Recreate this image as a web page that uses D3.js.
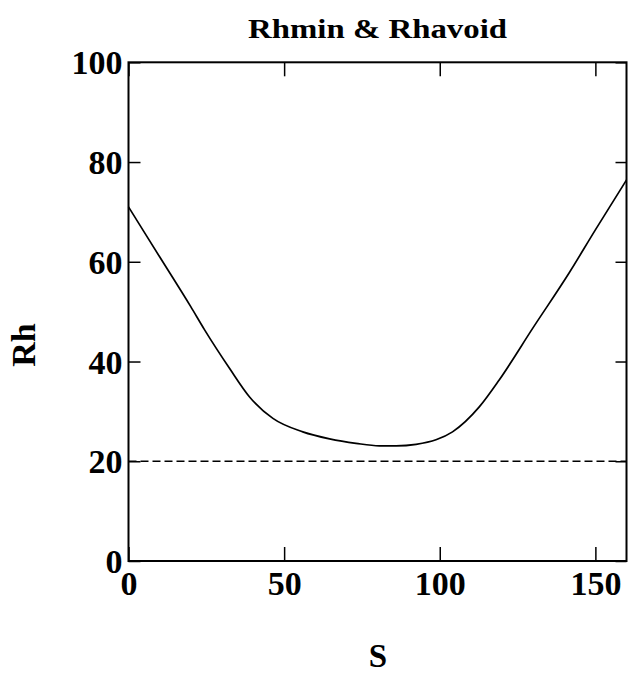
<!DOCTYPE html>
<html><head><meta charset="utf-8">
<script src="https://cdn.jsdelivr.net/npm/d3@7"></script>
<style>body{margin:0;background:#fff}svg{display:block}text{font-family:"Liberation Serif","Times New Roman",serif;font-weight:bold;fill:#000}</style>
</head><body>
<script>
const sValues = [0, 10, 20, 24.5, 32.5, 38.9, 46.4, 56, 64.6, 73.1, 80.6, 86, 92.4, 98.8, 104.1, 112.7, 119.1, 130, 141.5, 150, 160];
const rhValues = [71, 61, 51, 46.3, 38.6, 32.9, 28.6, 25.9, 24.5, 23.6, 23.1, 23.1, 23.4, 24.3, 25.9, 30.9, 36.3, 46.8, 57.7, 66.4, 76.4];
const rhAvoid = 20;
const xTicks = [0, 50, 100, 150];
const yTicks = [0, 20, 40, 60, 80, 100];
const title = "Rhmin & Rhavoid";
const xLabel = "S";
const yLabel = "Rh";

const W = 630, H = 674;
const m = {left: 128.5, right: 626.5, top: 62.3, bottom: 561};
const svg = d3.select("body").append("svg").attr("width", W).attr("height", H);
const x = d3.scaleLinear().domain([0, 160]).range([m.left, m.right]);
const y = d3.scaleLinear().domain([0, 100]).range([m.bottom, m.top]);

// frame
svg.append("rect").attr("x", m.left).attr("y", m.top).attr("width", m.right - m.left).attr("height", m.bottom - m.top)
  .attr("fill", "none").attr("stroke", "#000").attr("stroke-width", 2);

const tl = 14;
const gb = svg.append("g").attr("transform", `translate(0,${m.bottom})`)
  .call(d3.axisBottom(x).tickValues(xTicks).tickSizeInner(-tl).tickSizeOuter(0));
const gt = svg.append("g").attr("transform", `translate(0,${m.top})`)
  .call(d3.axisTop(x).tickValues(xTicks).tickSizeInner(-tl).tickSizeOuter(0).tickFormat(""));
const gl = svg.append("g").attr("transform", `translate(${m.left},0)`)
  .call(d3.axisLeft(y).tickValues(yTicks).tickSizeInner(-12).tickSizeOuter(0));
const gr = svg.append("g").attr("transform", `translate(${m.right},0)`)
  .call(d3.axisRight(y).tickValues(yTicks).tickSizeInner(-11).tickSizeOuter(0).tickFormat(""));
[gb, gt, gl, gr].forEach(g => {
  g.select(".domain").remove();
  g.selectAll(".tick line").attr("stroke", "#000").attr("stroke-width", 1.5);
  g.selectAll("text").attr("font-size", 34).attr("font-family", "Liberation Serif").attr("font-weight", "bold").attr("fill", "#000");
});
gb.selectAll("text").attr("y", 34).attr("dy", 0);
gl.selectAll("text").attr("x", -6).attr("dy", "0.34em");

// dashed Rhavoid line
svg.append("line").attr("x1", x(0)).attr("x2", x(160)).attr("y1", y(rhAvoid)).attr("y2", y(rhAvoid))
  .attr("stroke", "#000").attr("stroke-width", 1.5).attr("stroke-dasharray", "8,4");

// curve
const data = sValues.map((s, i) => [s, rhValues[i]]);
svg.append("path").datum(data)
  .attr("d", d3.line().x(d => x(d[0])).y(d => y(d[1])).curve(d3.curveMonotoneX))
  .attr("fill", "none").attr("stroke", "#000").attr("stroke-width", 1.7);

svg.append("text").attr("x", 248).attr("y", 38).attr("font-size", 28)
  .attr("textLength", 259).attr("lengthAdjust", "spacingAndGlyphs").text(title);
svg.append("text").attr("x", 378).attr("y", 667).attr("text-anchor", "middle").attr("font-size", 33).text(xLabel);
svg.append("text").attr("transform", "translate(35,345) rotate(-90)").attr("text-anchor", "middle").attr("font-size", 34).text(yLabel);
</script>
</body></html>
